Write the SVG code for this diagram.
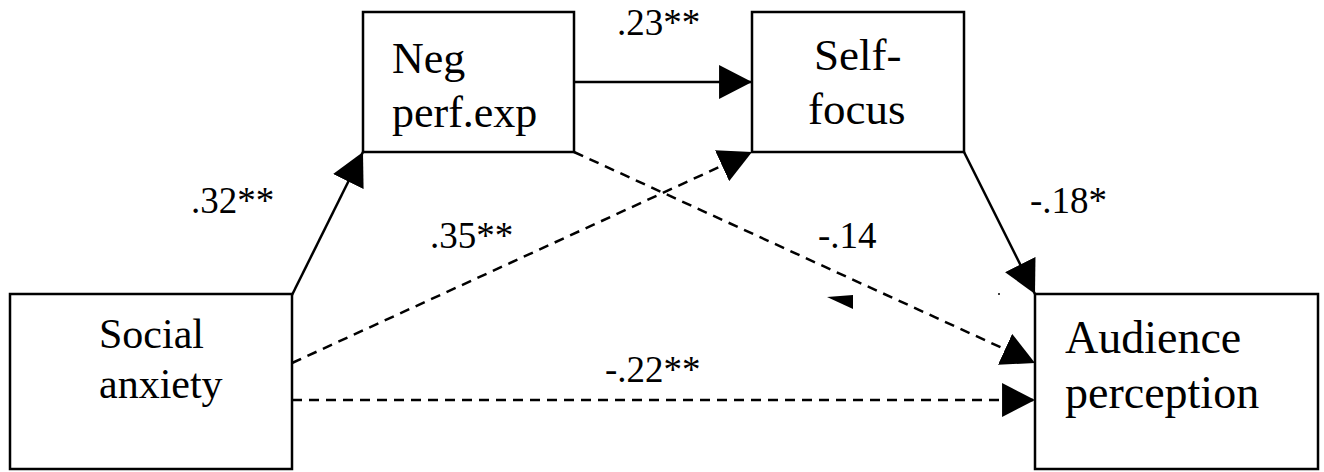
<svg xmlns="http://www.w3.org/2000/svg" width="1324" height="472" viewBox="0 0 1324 472">
<defs>
<marker id="ah" markerUnits="userSpaceOnUse" markerWidth="34" markerHeight="34" refX="31" refY="16" orient="auto" viewBox="0 0 32 32">
<path d="M0,0 L31,16 L0,32 Z" fill="#000" stroke="none"/>
</marker>
</defs>
<rect width="1324" height="472" fill="#fff"/>
<g id="connectors" fill="none" stroke="#000" stroke-width="2.5">
<line x1="292" y1="295" x2="363" y2="152" marker-end="url(#ah)"/>
<line x1="574" y1="82" x2="752" y2="82" marker-end="url(#ah)"/>
<line x1="964" y1="152" x2="1035" y2="294" marker-end="url(#ah)"/>
<g stroke-dasharray="10 7">
<line x1="574" y1="152" x2="1035" y2="363" marker-end="url(#ah)"/>
<line x1="292" y1="363" x2="752" y2="152" marker-end="url(#ah)"/>
<line x1="292" y1="400" x2="1035" y2="400" marker-end="url(#ah)"/>
</g>
<polygon points="827,297 853,295 853,309" fill="#000" stroke="none"/>
<circle cx="999" cy="294" r="1" fill="#000" stroke="none"/>
</g>
<g id="labels" font-family="Liberation Serif" font-size="37" fill="#000">
<text x="191" y="213">.32**</text>
<text x="617" y="35">.23**</text>
<text x="430" y="248">.35**</text>
<text x="818" y="248">-.14</text>
<text x="1030" y="213">-.18*</text>
<text x="605" y="382">-.22**</text>
</g>
<g id="social-anxiety">
<rect x="10" y="294" width="282" height="175" fill="#fff" stroke="#000" stroke-width="2.5"/>
<text x="99" y="348" font-size="42" font-family="Liberation Serif">Social</text>
<text x="99" y="398" font-size="42" font-family="Liberation Serif">anxiety</text>
</g>
<g id="neg-perf-exp">
<rect x="363" y="12" width="211" height="140" fill="#fff" stroke="#000" stroke-width="2.5"/>
<text x="392" y="73" font-size="44" font-family="Liberation Serif">Neg</text>
<text x="392" y="127" font-size="44" font-family="Liberation Serif">perf.exp</text>
</g>
<g id="self-focus">
<rect x="752" y="12" width="212" height="140" fill="#fff" stroke="#000" stroke-width="2.5"/>
<text x="814" y="70" font-size="45" font-family="Liberation Serif">Self-</text>
<text x="808" y="124" font-size="45" font-family="Liberation Serif">focus</text>
</g>
<g id="audience-perception">
<rect x="1035" y="294" width="283" height="175" fill="#fff" stroke="#000" stroke-width="2.5"/>
<text x="1065" y="353" font-size="46" font-family="Liberation Serif">Audience</text>
<text x="1065" y="408" font-size="46" font-family="Liberation Serif">perception</text>
</g>
</svg>
